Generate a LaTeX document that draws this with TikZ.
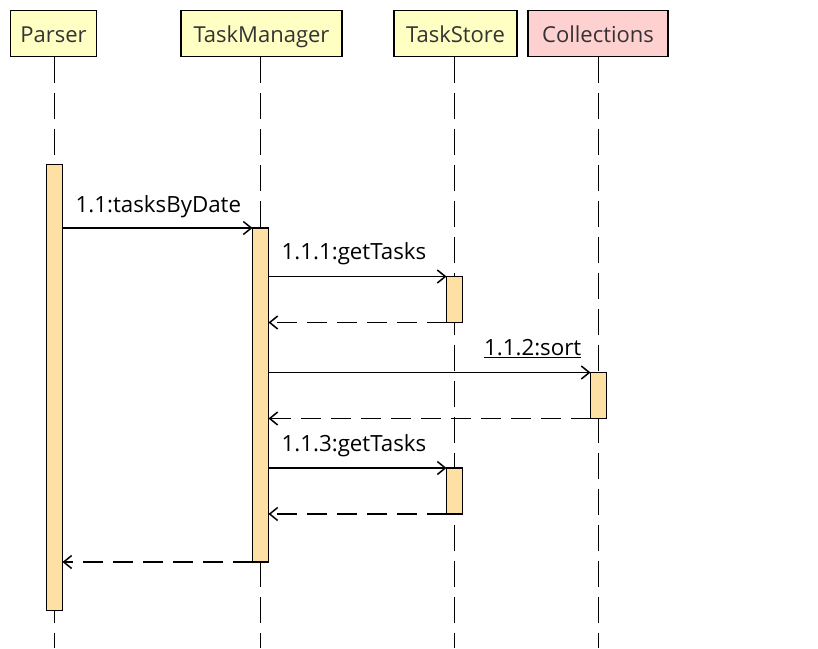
\documentclass[tikz,border=0pt]{standalone}
\usepackage{fontspec}
\setmainfont{Open Sans}
\usetikzlibrary{arrows.meta}
\usetikzlibrary{positioning}
\usetikzlibrary{calc}

\definecolor{headYellow}{HTML}{FFFFC4}
\definecolor{headPink}{HTML}{FFD0D0}
\definecolor{barOrange}{HTML}{FFE0A4}
\definecolor{headText}{HTML}{333333}

\tikzset{
	head/.style={draw, line width=1.6pt, fill=headYellow, text=headText, font=\fontsize{22}{24}\selectfont, minimum height=46pt, inner sep=0pt, text height=23pt, text depth=4.6pt},
	lifeline/.style={line width=1.5pt, dash pattern=on 26pt off 10pt},
	bar/.style={draw, line width=1.4pt, fill=barOrange, minimum width=16pt, inner sep=0pt, outer sep=0pt},
	call/.style={line width=1.5pt, -{Straight Barb[length=8pt,width=13pt]}},
	reply/.style={call, dash pattern=on 20pt off 10pt},
	msg/.style={anchor=base west, inner sep=0pt, font=\fontsize{22.3}{24}\selectfont}
}

\begin{document}
\begin{tikzpicture}[x=1pt, y=-1pt]
	\useasboundingbox (0,0) rectangle (818,648);

	% participant heads
	\node[head, minimum width=86pt] (parser) at (53.5,33.5) {Parser};
	\node[head, minimum width=161pt] (manager) at (261.5,33.5) {TaskManager};
	\node[head, minimum width=123pt] (store) at (455.5,33.5) {TaskStore};
	\node[head, minimum width=140pt, fill=headPink] (coll) at (598,33.5) {Collections};

	% lifeline bottoms
	\coordinate (parserEnd) at (54.5,648);
	\coordinate (managerEnd) at (260.5,648);
	\coordinate (storeEnd) at (454.5,648);
	\coordinate (collEnd) at (598.5,648);

	% draw the lifelines
	\draw[lifeline] (parserEnd |- parser.south) -- (parserEnd);
	\draw[lifeline] (managerEnd |- manager.south) -- (managerEnd);
	\draw[lifeline] (storeEnd |- store.south) -- (storeEnd);
	\draw[lifeline] (collEnd |- coll.south) -- (collEnd);

	% activation bars
	\node[bar, minimum height=446pt] (parserBar) at (54.5,387.5) {};
	\node[bar, minimum height=334pt] (managerBar) at (260.5,395) {};
	\node[bar, minimum height=46pt] (storeBarA) at (454.5,299.5) {};
	\node[bar, minimum height=46pt] (collBar) at (598.5,395.5) {};
	\node[bar, minimum height=46pt] (storeBarB) at (454.5,491) {};

	% calls and replies
	\draw[call] (parserBar.east |- managerBar.north) -- (managerBar.north west);
	\node[msg] (tasksByDate) at ($(parserBar.east |- managerBar.north)+(13,-16)$) {1.1:tasksByDate};

	\draw[call] (managerBar.east |- storeBarA.north) -- (storeBarA.north west);
	\node[msg] (getTasksA) at ($(managerBar.east |- storeBarA.north)+(13,-17)$) {1.1.1:getTasks};
	\draw[reply] (storeBarA.south west) -- (managerBar.east |- storeBarA.south);

	\draw[call] (managerBar.east |- collBar.north) -- (collBar.north west);
	\node[msg, anchor=base east] (sort) at ($(collBar.north west)+(-9,-17)$) {\underline{1.1.2:sort}};
	\draw[reply] (collBar.south west) -- (managerBar.east |- collBar.south);

	\draw[call] (managerBar.east |- storeBarB.north) -- (storeBarB.north west);
	\node[msg] (getTasksB) at ($(managerBar.east |- storeBarB.north)+(13,-17)$) {1.1.3:getTasks};
	\draw[reply] (storeBarB.south west) -- (managerBar.east |- storeBarB.south);

	\draw[reply] (managerBar.south west) -- (parserBar.east |- managerBar.south);

\end{tikzpicture}
\end{document}
